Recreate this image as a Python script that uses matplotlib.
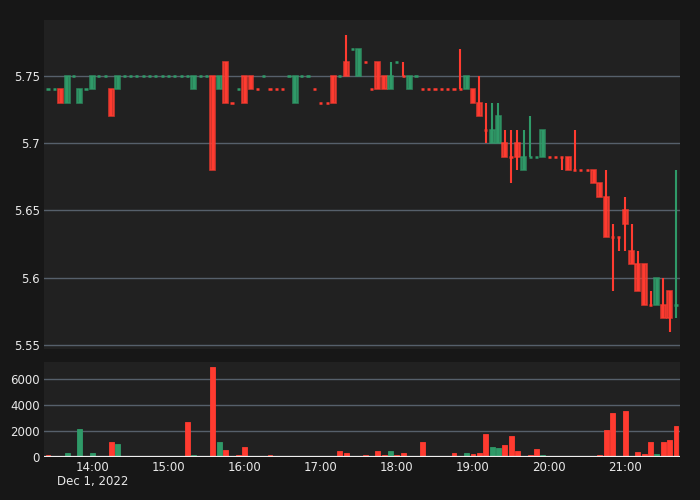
import matplotlib
matplotlib.use("Agg")
import matplotlib.pyplot as plt
import matplotlib.dates as mdates
import pandas as pd

# 5-minute bars, Dec 1 2022
times = pd.date_range("2022-12-01 13:25", periods=100, freq="5min")

opens = [5.74, 5.74, 5.74, 5.73, 5.75, 5.73, 5.74, 5.74, 5.75, 5.75,
         5.74, 5.74, 5.75, 5.75, 5.75, 5.75, 5.75, 5.75, 5.75, 5.75,
         5.75, 5.75, 5.75, 5.74, 5.75, 5.75, 5.75, 5.74, 5.76, 5.73,
         5.74, 5.75, 5.75, 5.74, 5.75, 5.74, 5.74, 5.74, 5.75, 5.73,
         5.75, 5.75, 5.74, 5.73, 5.73, 5.75, 5.75, 5.76, 5.77, 5.75,
         5.76, 5.74, 5.76, 5.75, 5.74, 5.76, 5.75, 5.74, 5.75, 5.74,
         5.74, 5.74, 5.74, 5.74, 5.74, 5.74, 5.74, 5.74, 5.73, 5.71,
         5.70, 5.70, 5.70, 5.69, 5.70, 5.68, 5.69, 5.69, 5.69, 5.69,
         5.69, 5.69, 5.69, 5.68, 5.68, 5.68, 5.68, 5.67, 5.66, 5.63,
         5.63, 5.65, 5.62, 5.61, 5.61, 5.58, 5.58, 5.58, 5.59, 5.58]
highs = [5.74, 5.74, 5.74, 5.75, 5.75, 5.74, 5.74, 5.75, 5.75, 5.75,
         5.74, 5.75, 5.75, 5.75, 5.75, 5.75, 5.75, 5.75, 5.75, 5.75,
         5.75, 5.75, 5.75, 5.75, 5.75, 5.75, 5.75, 5.75, 5.76, 5.73,
         5.74, 5.75, 5.75, 5.74, 5.75, 5.74, 5.74, 5.74, 5.75, 5.75,
         5.75, 5.75, 5.74, 5.73, 5.73, 5.75, 5.75, 5.78, 5.77, 5.77,
         5.76, 5.74, 5.76, 5.75, 5.76, 5.76, 5.76, 5.75, 5.75, 5.74,
         5.74, 5.74, 5.74, 5.74, 5.74, 5.77, 5.75, 5.74, 5.75, 5.73,
         5.73, 5.73, 5.71, 5.71, 5.71, 5.71, 5.72, 5.69, 5.71, 5.69,
         5.69, 5.69, 5.69, 5.71, 5.68, 5.68, 5.68, 5.67, 5.68, 5.64,
         5.63, 5.66, 5.64, 5.62, 5.61, 5.59, 5.60, 5.60, 5.59, 5.68]
lows = [5.74, 5.74, 5.73, 5.73, 5.75, 5.73, 5.74, 5.74, 5.75, 5.75,
        5.72, 5.74, 5.75, 5.75, 5.75, 5.75, 5.75, 5.75, 5.75, 5.75,
        5.75, 5.75, 5.75, 5.74, 5.75, 5.75, 5.68, 5.74, 5.73, 5.73,
        5.74, 5.73, 5.74, 5.74, 5.75, 5.74, 5.74, 5.74, 5.75, 5.73,
        5.75, 5.75, 5.74, 5.73, 5.73, 5.73, 5.75, 5.75, 5.77, 5.75,
        5.76, 5.74, 5.74, 5.74, 5.74, 5.76, 5.75, 5.74, 5.75, 5.74,
        5.74, 5.74, 5.74, 5.74, 5.74, 5.74, 5.74, 5.73, 5.72, 5.70,
        5.70, 5.70, 5.69, 5.67, 5.68, 5.68, 5.69, 5.69, 5.69, 5.69,
        5.69, 5.68, 5.68, 5.68, 5.68, 5.68, 5.67, 5.66, 5.63, 5.59,
        5.62, 5.62, 5.61, 5.59, 5.58, 5.58, 5.58, 5.57, 5.56, 5.57]
closes = [5.74, 5.74, 5.73, 5.75, 5.75, 5.74, 5.74, 5.75, 5.75, 5.75,
          5.72, 5.75, 5.75, 5.75, 5.75, 5.75, 5.75, 5.75, 5.75, 5.75,
          5.75, 5.75, 5.75, 5.75, 5.75, 5.75, 5.68, 5.75, 5.73, 5.73,
          5.74, 5.73, 5.74, 5.74, 5.75, 5.74, 5.74, 5.74, 5.75, 5.75,
          5.75, 5.75, 5.74, 5.73, 5.73, 5.73, 5.75, 5.75, 5.77, 5.77,
          5.76, 5.74, 5.74, 5.74, 5.75, 5.76, 5.75, 5.75, 5.75, 5.74,
          5.74, 5.74, 5.74, 5.74, 5.74, 5.74, 5.75, 5.73, 5.72, 5.71,
          5.71, 5.72, 5.69, 5.69, 5.69, 5.69, 5.69, 5.69, 5.71, 5.69,
          5.69, 5.69, 5.68, 5.68, 5.68, 5.68, 5.67, 5.66, 5.63, 5.63,
          5.63, 5.64, 5.61, 5.59, 5.58, 5.58, 5.60, 5.57, 5.57, 5.58]
volumes = [180, 20, 50, 280, 20, 2120, 20, 280, 10, 10,
           1140, 1010, 20, 10, 50, 10, 30, 30, 10, 10,
           10, 10, 2660, 130, 50, 10, 6900, 1190, 540, 100,
           130, 750, 50, 20, 50, 150, 20, 20, 30, 30,
           10, 10, 30, 40, 20, 50, 440, 280, 30, 30,
           150, 20, 440, 180, 490, 150, 280, 40, 10, 1140,
           40, 20, 20, 20, 280, 60, 280, 230, 280, 1760,
           750, 700, 900, 1580, 490, 100, 180, 620, 130, 40,
           20, 30, 30, 30, 20, 20, 40, 150, 2070, 3360,
           60, 3540, 60, 390, 200, 1190, 260, 1140, 1290, 2380]

UP = "#2f9a68"
DOWN = "#ff3b30"
FIG_BG = "#171717"
AX_BG = "#212121"
GRID = "#56606b"
TXT = "#e8e8e8"

# candle colour: close vs open, ties decided by previous close
candle_up = []
for i, (o, c) in enumerate(zip(opens, closes)):
    if c != o:
        up = c > o
    elif i == 0:
        up = True
    elif c != closes[i - 1]:
        up = c > closes[i - 1]
    else:
        up = candle_up[-1]
    candle_up.append(up)
ccol = [UP if u else DOWN for u in candle_up]
vcol = [UP if c > o else DOWN for o, c in zip(opens, closes)]

x = mdates.date2num(times)
step = 5 / (24 * 60)
w = step * 0.78

fig = plt.figure(figsize=(7, 5), dpi=100, facecolor=FIG_BG)
ax = fig.add_axes([44 / 700, 1 - 349 / 500, 636 / 700, 329 / 500])
axv = fig.add_axes([44 / 700, 1 - 457 / 500, 636 / 700, 95 / 500], sharex=ax)

for a in (ax, axv):
    a.set_facecolor(AX_BG)
    for s in a.spines.values():
        s.set_visible(False)
    a.tick_params(length=0, colors=TXT, labelsize=8.5, pad=3)
    a.grid(axis="y", color=GRID, lw=1)
    a.set_axisbelow(True)

# wicks
ax.vlines(x, lows, highs, colors=ccol, lw=1.5, zorder=2)
# bodies
for xi, o, c, col in zip(x, opens, closes, ccol):
    if o == c:
        ax.hlines(c, xi - w * 0.32, xi + w * 0.32, colors=col, lw=1.8, zorder=3)
    else:
        ax.bar(xi, abs(c - o), bottom=min(o, c), width=w, color=col, alpha=0.8,
               edgecolor=col, lw=1.2, zorder=3)

axv.bar(x, volumes, width=w, color=vcol, edgecolor=vcol, lw=0.6, zorder=2)
axv.axhline(0, color="#f0f0f0", lw=1.6, zorder=3)

ax.set_xlim(x[0] - 0.63 * step, x[-1] + 0.63 * step)
ax.set_ylim(5.547, 5.7915)
ax.set_yticks([5.55, 5.6, 5.65, 5.7, 5.75])
ax.set_yticklabels(["5.55", "5.6", "5.65", "5.7", "5.75"])
axv.set_ylim(0, 7300)
axv.set_yticks([0, 2000, 4000, 6000])
axv.set_yticklabels(["0", "2000", "4000", "6000"])

hours = pd.date_range("2022-12-01 14:00", "2022-12-01 21:00", freq="1h")
axv.set_xticks(mdates.date2num(hours))
axv.set_xticklabels([h.strftime("%H:%M") for h in hours])
ax.tick_params(axis="x", labelbottom=False)
axv.text(mdates.date2num(hours[0]), -0.19, "Dec 1, 2022", color=TXT, fontsize=8.5,
         ha="center", va="top", transform=axv.get_xaxis_transform())

fig.savefig("out.png", dpi=100, facecolor=FIG_BG)
